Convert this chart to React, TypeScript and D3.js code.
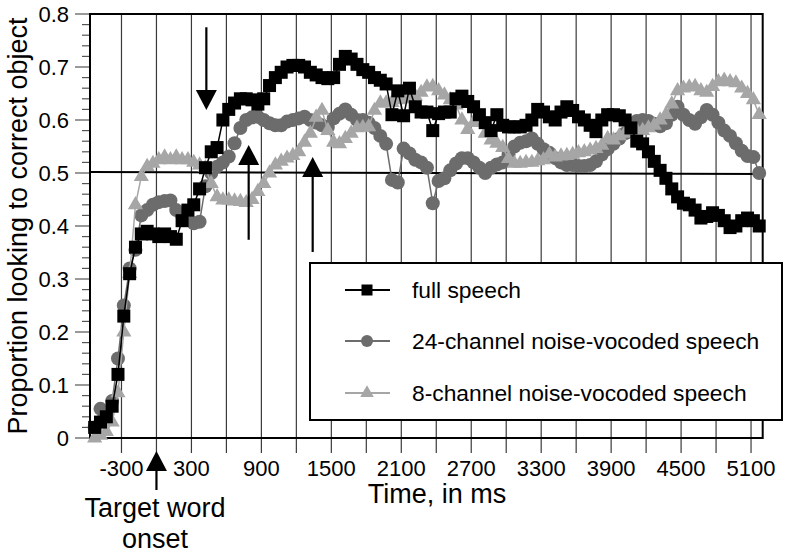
import * as d3 from 'd3'

// sample times (ms re. target word onset)
const timeMs = [
  -530, -480, -430, -380, -330, -280, -230, -180, -130, -80,
  -30, 20, 70, 120, 170, 220, 270, 320, 370, 420,
  470, 520, 570, 620, 670, 720, 770, 820, 870, 920,
  970, 1020, 1070, 1120, 1170, 1220, 1270, 1320, 1370, 1420,
  1470, 1520, 1570, 1620, 1670, 1720, 1770, 1820, 1870, 1920,
  1970, 2020, 2070, 2120, 2170, 2220, 2270, 2320, 2370, 2420,
  2470, 2520, 2570, 2620, 2670, 2720, 2770, 2820, 2870, 2920,
  2970, 3020, 3070, 3120, 3170, 3220, 3270, 3320, 3370, 3420,
  3470, 3520, 3570, 3620, 3670, 3720, 3770, 3820, 3870, 3920,
  3970, 4020, 4070, 4120, 4170, 4220, 4270, 4320, 4370, 4420,
  4470, 4520, 4570, 4620, 4670, 4720, 4770, 4820, 4870, 4920,
  4970, 5020, 5070, 5120, 5170,
]

const fullSpeech = [
  0.02, 0.03, 0.04, 0.06, 0.12, 0.23, 0.31, 0.36, 0.385, 0.39,
  0.385, 0.38, 0.385, 0.38, 0.375, 0.41, 0.43, 0.44, 0.47, 0.51,
  0.54, 0.548, 0.6, 0.62, 0.632, 0.64, 0.64, 0.638, 0.63, 0.64,
  0.665, 0.68, 0.69, 0.7, 0.703, 0.703, 0.7, 0.69, 0.685, 0.68,
  0.678, 0.68, 0.705, 0.72, 0.715, 0.705, 0.695, 0.69, 0.68, 0.675,
  0.668, 0.61, 0.655, 0.608, 0.66, 0.625, 0.615, 0.615, 0.58, 0.612,
  0.615, 0.615, 0.64, 0.645, 0.635, 0.625, 0.61, 0.595, 0.58, 0.61,
  0.59, 0.587, 0.587, 0.587, 0.59, 0.6, 0.62, 0.615, 0.606, 0.6,
  0.615, 0.625, 0.618, 0.606, 0.6, 0.59, 0.578, 0.6, 0.61, 0.61,
  0.608, 0.6, 0.585, 0.56, 0.555, 0.54, 0.522, 0.505, 0.49, 0.47,
  0.455, 0.443, 0.44, 0.43, 0.415, 0.418, 0.425, 0.42, 0.41, 0.397,
  0.4, 0.41, 0.415, 0.41, 0.4,
]

const vocoded24 = [
  0.02, 0.055, 0.045, 0.07, 0.15, 0.25, 0.32, 0.355, 0.42, 0.43,
  0.44, 0.445, 0.447, 0.448, 0.43, 0.42, 0.412, 0.405, 0.408, 0.475,
  0.5, 0.512, 0.52, 0.531, 0.556, 0.585, 0.6, 0.605, 0.606, 0.6,
  0.594, 0.59, 0.59, 0.597, 0.6, 0.603, 0.606, 0.6, 0.595, 0.59,
  0.587, 0.603, 0.612, 0.62, 0.61, 0.6, 0.6, 0.595, 0.585, 0.57,
  0.555, 0.487, 0.482, 0.546, 0.537, 0.525, 0.52, 0.51, 0.443, 0.485,
  0.49, 0.505, 0.518, 0.528, 0.528, 0.52, 0.51, 0.5, 0.51, 0.516,
  0.52, 0.535, 0.55, 0.557, 0.56, 0.565, 0.555, 0.545, 0.538, 0.528,
  0.52, 0.515, 0.515, 0.513, 0.513, 0.515, 0.522, 0.535, 0.545, 0.555,
  0.565, 0.575, 0.59, 0.598, 0.6, 0.598, 0.593, 0.588, 0.594, 0.61,
  0.625, 0.61, 0.6, 0.593, 0.605, 0.619, 0.61, 0.595, 0.58, 0.57,
  0.556, 0.542, 0.532, 0.53, 0.5,
]

const vocoded8 = [
  0.0, 0.005, 0.012, 0.03, 0.085, 0.2, 0.31, 0.44, 0.493, 0.512,
  0.518, 0.525, 0.53, 0.525, 0.53, 0.525, 0.525, 0.52, 0.515, 0.51,
  0.48, 0.455, 0.449, 0.449, 0.447, 0.446, 0.444, 0.45, 0.465, 0.48,
  0.5, 0.515, 0.522, 0.528, 0.533, 0.54, 0.558, 0.575, 0.605, 0.618,
  0.58, 0.558, 0.555, 0.565, 0.575, 0.585, 0.586, 0.587, 0.618, 0.632,
  0.632, 0.633, 0.638, 0.64, 0.64, 0.645, 0.652, 0.662, 0.663, 0.655,
  0.647, 0.638, 0.628, 0.6, 0.582, 0.595, 0.605, 0.575, 0.562, 0.556,
  0.548, 0.527, 0.518, 0.518, 0.52, 0.52, 0.523, 0.525, 0.535, 0.53,
  0.532, 0.533, 0.535, 0.538, 0.54, 0.543, 0.546, 0.552, 0.565, 0.562,
  0.57, 0.575, 0.58, 0.58, 0.58, 0.585, 0.59, 0.6, 0.61, 0.63,
  0.655, 0.66, 0.662, 0.663, 0.655, 0.652, 0.663, 0.672, 0.675, 0.672,
  0.67, 0.66, 0.65, 0.638, 0.61,
]

const seriesNames = [
  'full speech',
  '24-channel noise-vocoded speech',
  '8-channel noise-vocoded speech',
]

const xTickLabels = [-300, 300, 900, 1500, 2100, 2700, 3300, 3900, 4500, 5100]
const gridTimes = [-300, 0, 300, 600, 900, 1200, 1500, 1800, 2100, 2400, 2700, 3000,
  3300, 3600, 3900, 4200, 4500, 4800, 5100]
const yTickLabels = [0, 0.1, 0.2, 0.3, 0.4, 0.5, 0.6, 0.7, 0.8]

// arrows: [time, from value, to value (tip)]
const arrows = [
  [428, 0.775, 0.619],
  [791, 0.374, 0.553],
  [1340, 0.351, 0.530],
]

const FONT = '"Liberation Sans", Arial, Helvetica, sans-serif'

export default function App() {
  const width = 800
  const height = 553
  const x = d3.scaleLinear().domain([-570, 5200]).range([90, 762.7])
  const y = d3.scaleLinear().domain([0, 0.8]).range([438, 14])

  const line = d3
    .line<number>()
    .x((_, i) => x(timeMs[i]))
    .y((d) => y(d))

  const minorTicks = d3.range(0, 0.801, 0.02)
  const tri = d3.symbol(d3.symbolTriangle, 100)()
  const triSmall = d3.symbol(d3.symbolTriangle, 80)()

  const gray24 = '#6c6c6c'
  const gray8 = '#a6a6a6'

  const arrowHead = (cx: number, tipY: number, dir: number) => {
    const baseY = tipY - dir * 20
    return `M${cx},${tipY}L${cx - 10.5},${baseY}L${cx + 10.5},${baseY}Z`
  }

  return (
    <svg
      width={width}
      height={height}
      style={{ position: 'absolute', left: 0, top: 0, background: '#fff' }}
      fontFamily={FONT}
    >
      <rect width={width} height={height} fill="#fff" />

      {/* vertical grid lines, extending below axis as ticks */}
      {gridTimes.map((t) => (
        <line key={t} x1={x(t)} x2={x(t)} y1={y(0.8)} y2={y(0) + 15} stroke="#3a3a3a" strokeWidth={1.2} />
      ))}

      {/* y ticks */}
      {minorTicks.map((v, i) => (
        <line
          key={i}
          x1={i % 5 === 0 ? 75 : 82}
          x2={90}
          y1={y(v)}
          y2={y(v)}
          stroke="#555"
          strokeWidth={1.2}
        />
      ))}
      {yTickLabels.map((v) => (
        <text key={v} x={69} y={y(v)} dy="0.36em" textAnchor="end" fontSize={22}>
          {v === 0 ? '0' : v.toFixed(1)}
        </text>
      ))}

      {/* chance line */}
      <line x1={x(-570)} x2={x(5200)} y1={y(0.502)} y2={y(0.498)} stroke="#000" strokeWidth={2} />

      {/* frame */}
      <path
        d={`M${x(-570)},${y(0)}V${y(0.8)}H${x(5200)}V${y(0)}Z`}
        fill="none"
        stroke="#000"
        strokeWidth={2}
      />

      {/* series: 24-ch circles */}
      <path d={line(vocoded24) || ''} fill="none" stroke={gray24} strokeWidth={1.5} />
      {vocoded24.map((v, i) => (
        <circle key={i} cx={x(timeMs[i])} cy={y(v)} r={7} fill={gray24} />
      ))}

      {/* 8-ch triangles */}
      <path d={line(vocoded8) || ''} fill="none" stroke={gray8} strokeWidth={1.5} />
      {vocoded8.map((v, i) => (
        <path key={i} d={tri || ''} transform={`translate(${x(timeMs[i])},${y(v)})`} fill={gray8} />
      ))}

      {/* full speech squares */}
      <path d={line(fullSpeech) || ''} fill="none" stroke="#000" strokeWidth={1.5} />
      {fullSpeech.map((v, i) => (
        <rect key={i} x={x(timeMs[i]) - 6.5} y={y(v) - 6.5} width={13} height={13} fill="#000" />
      ))}

      {/* arrows */}
      {arrows.map(([t, from, to], i) => {
        const dir = to > from ? -1 : 1
        return (
          <g key={i}>
            <line x1={x(t)} x2={x(t)} y1={y(from)} y2={y(to) - dir * 18} stroke="#000" strokeWidth={2.2} />
            <path d={arrowHead(x(t), y(to), dir)} fill="#000" />
          </g>
        )
      })}

      {/* x tick labels */}
      {xTickLabels.map((t) => (
        <text key={t} x={x(t)} y={476} textAnchor="middle" fontSize={22}>
          {t}
        </text>
      ))}

      {/* target word onset arrow */}
      <line x1={x(0)} x2={x(0)} y1={490} y2={468} stroke="#000" strokeWidth={2.2} />
      <path d={arrowHead(x(0), 451, -1)} fill="#000" />
      <text x={155} y={517} textAnchor="middle" fontSize={27}>Target word</text>
      <text x={155} y={548} textAnchor="middle" fontSize={27}>onset</text>

      <text x={437} y={503} textAnchor="middle" fontSize={27}>Time, in ms</text>
      <text transform="translate(27,226) rotate(-90)" textAnchor="middle" fontSize={27}>
        Proportion looking to correct object
      </text>

      {/* legend */}
      <g>
        <rect x={310} y={263} width={472} height={157} fill="#fff" stroke="#000" strokeWidth={2} />
        {seriesNames.map((name, i) => {
          const ly = [290, 341, 393][i]
          const col = ['#000', gray24, gray8][i]
          return (
            <g key={name}>
              <line x1={345} x2={390} y1={ly} y2={ly} stroke={col} strokeWidth={2} />
              {i === 0 && <rect x={361.5} y={ly - 5.5} width={11} height={11} fill="#000" />}
              {i === 1 && <circle cx={367} cy={ly} r={6} fill={gray24} />}
              {i === 2 && <path d={triSmall || ''} transform={`translate(367,${ly})`} fill={gray8} />}
              <text x={412} y={ly} dy="0.36em" fontSize={22.8}>
                {name}
              </text>
            </g>
          )
        })}
      </g>
    </svg>
  )
}
